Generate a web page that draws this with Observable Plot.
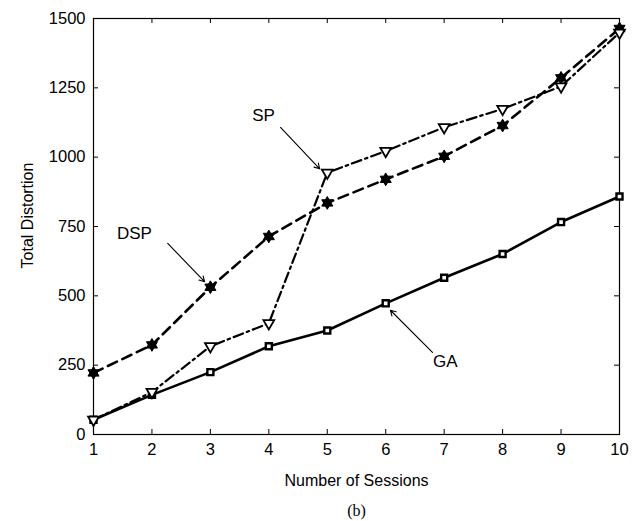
<!DOCTYPE html>
<html>
<head>
<meta charset="utf-8">
<script src="https://cdn.jsdelivr.net/npm/d3@7"></script>
<script src="https://cdn.jsdelivr.net/npm/@observablehq/plot@0.6"></script>
<style>
  html, body { margin: 0; padding: 0; background: #fff; }
  #chart svg { display: block; }
</style>
</head>
<body>
<div id="chart"></div>
<script>
// ---- data ----
const sessions = [1, 2, 3, 4, 5, 6, 7, 8, 9, 10];
const gaValues  = [53, 143, 225, 318, 375, 473, 565, 651, 766, 858];
const dspValues = [222, 323, 531, 714, 835, 920, 1003, 1114, 1286, 1464];
const spValues  = [53, 153, 318, 401, 944, 1022, 1108, 1174, 1255, 1449];
const xTicks = [1, 2, 3, 4, 5, 6, 7, 8, 9, 10];
const yTicks = [0, 250, 500, 750, 1000, 1250, 1500];

// annotation labels and arrows (data coordinates)
const annoLabels = ["SP", "DSP", "GA"];
const annoTextX = [3.91, 1.70, 7.02];
const annoTextY = [1150, 725, 263];
const arrowX1 = [4.20, 2.27, 6.80];
const arrowY1 = [1107, 689, 296];
const arrowX2 = [4.87, 2.90, 6.08];
const arrowY2 = [958, 551, 448];

const toRows = vals => sessions.map((s, i) => ({x: s, y: vals[i]}));
const ga = toRows(gaValues), dsp = toRows(dspValues), sp = toRows(spValues);
const annos = annoLabels.map((t, i) => ({t, x: annoTextX[i], y: annoTextY[i]}));
const arrows = annoLabels.map((t, i) => ({x1: arrowX1[i], y1: arrowY1[i], x2: arrowX2[i], y2: arrowY2[i]}));

// custom hexagram (star of David) symbol
const hexagram = {
  draw(ctx, size) {
    const r = Math.sqrt(size) * 0.75;
    for (const off of [-Math.PI / 2, Math.PI / 2]) {
      for (let k = 0; k < 3; k++) {
        const a = off + k * 2 * Math.PI / 3;
        const px = r * Math.cos(a), py = r * Math.sin(a);
        if (k === 0) ctx.moveTo(px, py); else ctx.lineTo(px, py);
      }
      ctx.closePath();
    }
  }
};

const W = 639, H = 521;
const mt = 18, mb = 87, ml = 93, mr = 20;
const innerH = H - mt - mb, innerW = W - ml - mr;
const tk = 5;
const fmt = d3.format("d");

const chart = Plot.plot({
  width: W,
  height: H,
  marginTop: mt, marginBottom: mb, marginLeft: ml, marginRight: mr,
  style: {fontFamily: "'Liberation Sans', Arial, Helvetica, sans-serif", fontSize: "16px", color: "#000", background: "#fff"},
  x: {domain: [1, 10], ticks: xTicks},
  y: {domain: [0, 1500], ticks: yTicks},
  marks: [
    Plot.frame({stroke: "#000", strokeWidth: 1.2}),
    // inward ticks on all four sides
    Plot.tickX(xTicks, {x: d => d, insetTop: innerH - tk, stroke: "#000", strokeWidth: 1}),
    Plot.tickX(xTicks, {x: d => d, insetBottom: innerH - tk, stroke: "#000", strokeWidth: 1}),
    Plot.tickY(yTicks, {y: d => d, insetRight: innerW - tk, stroke: "#000", strokeWidth: 1}),
    Plot.tickY(yTicks, {y: d => d, insetLeft: innerW - tk, stroke: "#000", strokeWidth: 1}),
    Plot.axisX({ticks: xTicks, tickSize: 0, tickPadding: 9, fontSize: 16.5, tickFormat: fmt, label: null, fill: "#000"}),
    Plot.axisY({ticks: yTicks, tickSize: 0, tickPadding: 8, fontSize: 16.5, tickFormat: fmt, label: null, fill: "#000"}),
    // axis titles
    Plot.text(["Number of Sessions"], {frameAnchor: "bottom", dy: 51, fontSize: 16, fill: "#000", text: d => d}),
    Plot.text(["Total Distortion"], {frameAnchor: "left", textAnchor: "middle", dx: -66, dy: -11, rotate: -90, fontSize: 16, fill: "#000", text: d => d}),
    Plot.text(["(b)"], {frameAnchor: "bottom", dy: 81, fontSize: 16, fill: "#000", fontFamily: "'Liberation Serif', 'Times New Roman', serif", text: d => d}),
    // series
    Plot.line(ga, {x: "x", y: "y", stroke: "#000", strokeWidth: 2.6}),
    Plot.line(dsp, {x: "x", y: "y", stroke: "#000", strokeWidth: 2.6, strokeDasharray: "10,6"}),
    Plot.line(sp, {x: "x", y: "y", stroke: "#000", strokeWidth: 2.2, strokeDasharray: "10,4,2.5,4"}),
    Plot.dot(ga, {x: "x", y: "y", symbol: "square", r: 3.4, fill: "#fff", stroke: "#000", strokeWidth: 2.4}),
    Plot.dot(dsp, {x: "x", y: "y", symbol: hexagram, r: 4.8, fill: "#000", stroke: "#000", strokeWidth: 1}),
    Plot.dot(sp, {x: "x", y: "y", symbol: "triangle", rotate: 180, r: 4, fill: "#fff", stroke: "#000", strokeWidth: 1.8}),
    // annotations
    Plot.arrow(arrows, {x1: "x1", y1: "y1", x2: "x2", y2: "y2", stroke: "#000", strokeWidth: 1.1, headLength: 8}),
    Plot.text(annos, {x: "x", y: "y", text: "t", fontSize: 17, fill: "#000"})
  ]
});
document.getElementById("chart").appendChild(chart);
</script>
</body>
</html>
